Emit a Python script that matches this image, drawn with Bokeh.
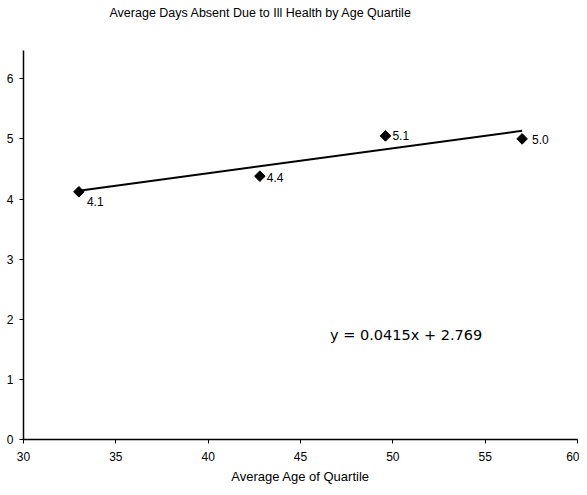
import math
from bokeh.plotting import figure
from bokeh.models import ColumnDataSource, Range1d, FixedTicker, Label, LabelSet, Title
from bokeh.core.properties import value
from bokeh.embed import file_html
from bokeh.resources import INLINE

# Data
ages = [33.0, 42.8, 49.6, 57.0]
days = [4.12, 4.38, 5.05, 5.00]
point_labels = ["4.1", "4.4", "5.1", "5.0"]
slope = 0.0415
intercept = 2.769
equation_text = "y = 0.0415x + 2.769"
x_ticks = [30, 35, 40, 45, 50, 55, 60]
y_ticks = [0, 1, 2, 3, 4, 5, 6]
title_text = "Average Days Absent Due to Ill Health by Age Quartile"
x_title = "Average Age of Quartile"

p = figure(width=579, height=486, output_backend="svg", toolbar_location=None,
           x_range=Range1d(30, 60), y_range=Range1d(0, 6.47),
           min_border_left=23, min_border_right=2, min_border_top=50, min_border_bottom=46)

# real title on top, an empty spacer title between it and the frame
p.title.text = title_text
p.title.align = "left"
p.title.offset = 86
p.title.text_font = "Liberation Sans"
p.title.text_font_size = "12.5px"
p.title.text_font_style = "normal"
p.title.text_color = "black"
p.title.standoff = 0
p.add_layout(Title(text=" ", text_font_size="17px", standoff=10), "above")

p.xgrid.visible = False
p.ygrid.visible = False
p.outline_line_color = None
p.background_fill_color = "white"
p.border_fill_color = "white"

for ax in (p.xaxis[0], p.yaxis[0]):
    ax.axis_line_color = "black"
    ax.axis_line_width = 1.5
    ax.major_tick_line_color = "black"
    ax.major_tick_in = 0
    ax.major_tick_out = 4
    ax.minor_tick_line_color = None
    ax.major_label_text_font = "Liberation Sans"
    ax.major_label_text_font_size = "12px"
    ax.major_label_text_color = "black"
    ax.major_label_standoff = 6

p.xaxis.major_label_standoff = 8
p.xaxis.ticker = FixedTicker(ticks=x_ticks)
p.yaxis.ticker = FixedTicker(ticks=y_ticks)
p.xaxis.axis_label = x_title
p.xaxis.axis_label_text_font = "Liberation Sans"
p.xaxis.axis_label_text_font_size = "13px"
p.xaxis.axis_label_text_font_style = "normal"
p.xaxis.axis_label_text_color = "black"
p.xaxis.axis_label_standoff = 5

# Trend line from regression coefficients
tx = [ages[0], ages[-1]]
ty = [slope * x + intercept for x in tx]
p.line(tx, ty, line_color="black", line_width=2)

src = ColumnDataSource(dict(x=ages, y=days, lab=point_labels,
                            xo=[8, 7, 7, 10], yo=[-10, -1, 0, -1]))
p.scatter("x", "y", source=src, marker="square", angle=math.pi / 4, size=7.5, color="black")

labels = LabelSet(x="x", y="y", text="lab", source=src, x_offset="xo", y_offset="yo",
                  text_font=value("Liberation Sans"), text_font_size="12px",
                  text_baseline="middle", text_color="black")
p.add_layout(labels)

eq = Label(x=46.6, y=1.73, text=equation_text, text_font="DejaVu Sans",
           text_font_size="14.5px", text_baseline="middle", text_color="black")
p.add_layout(eq)

open("out.html", "w").write(file_html(p, INLINE))
